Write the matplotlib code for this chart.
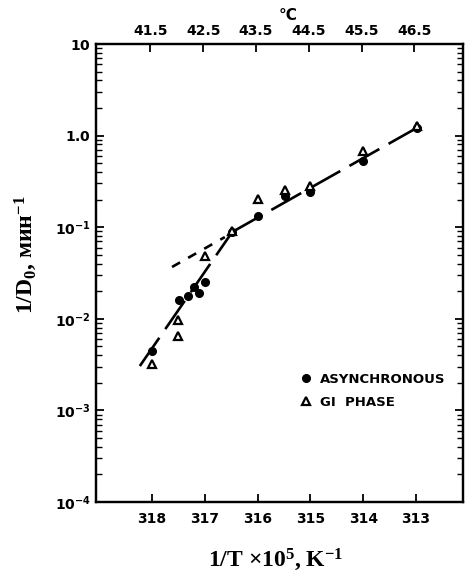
import matplotlib
matplotlib.use("Agg")
import matplotlib.pyplot as plt
import numpy as np

plt.rcParams['mathtext.fontset'] = 'custom'
plt.rcParams['mathtext.rm'] = 'Liberation Serif:bold'
plt.rcParams['mathtext.it'] = 'Liberation Serif:bold'
plt.rcParams['mathtext.bf'] = 'DejaVu Sans:bold'

# ---- data ----
async_x = [318.0, 317.49, 317.32, 317.20, 317.11, 317.0, 316.48, 315.99, 315.48, 315.0, 314.0, 312.98]
async_y = [0.0045, 0.016, 0.0178, 0.0222, 0.0191, 0.0252, 0.0887, 0.132, 0.22, 0.242, 0.53, 1.22]

g1_x = [318.0, 317.51, 317.51, 317.0, 316.48, 315.99, 315.48, 315.0, 314.0, 312.98]
g1_y = [0.0032, 0.0098, 0.0065, 0.0486, 0.09, 0.203, 0.255, 0.28, 0.68, 1.28]

steep_x = [318.23, 316.48]
steep_y = [0.00305, 0.0887]
shallow_x = [316.48, 313.0]
shallow_y = [0.0887, 1.2]
g1fit_x = [317.62, 316.62]
g1fit_y = [0.0368, 0.078]

bottom_ticks = [318, 317, 316, 315, 314, 313]
bottom_labels = ['318', '317', '316', '315', '314', '313']
top_ticks = [318.03, 317.03, 316.03, 315.03, 314.03, 313.03]
top_labels = ['41.5', '42.5', '43.5', '44.5', '45.5', '46.5']
y_ticks = [1e1, 1e0, 1e-1, 1e-2, 1e-3, 1e-4]
y_labels = [r'$\mathbf{10}$', r'$\mathbf{1.0}$', r'$\mathbf{10^{-1}}$',
            r'$\mathbf{10^{-2}}$', r'$\mathbf{10^{-3}}$', r'$\mathbf{10^{-4}}$']

W, H = 469, 575
fig = plt.figure(figsize=(W/100, H/100), dpi=100)
L, R, T, B = 96, 463, 44, 502
ax = fig.add_axes([L/W, 1 - B/H, (R-L)/W, (B-T)/H])

ax.set_yscale('log')
ax.set_xlim(319.06, 312.11)
ax.set_ylim(1e-4, 10)

lw = 1.9
ax.plot(steep_x, steep_y, color='black', lw=lw, dashes=(13, 4))
ax.plot(shallow_x, shallow_y, color='black', lw=lw, dashes=(13, 4))
ax.plot(g1fit_x, g1fit_y, color='black', lw=lw, dashes=(3.5, 3.5))

ax.plot(async_x, async_y, 'o', color='black', ms=5.5, ls='none', label='ASYNCHRONOUS')
ax.plot(g1_x, g1_y, '^', mfc='white', mec='black', mew=1.6, ms=6.0, ls='none', label='GI  PHASE')

for s in ax.spines.values():
    s.set_linewidth(1.6)

ax.set_xticks(bottom_ticks)
ax.set_xticklabels(bottom_labels, fontsize=10, fontweight='bold')
ax.set_yticks(y_ticks)
ax.set_yticklabels(y_labels, fontsize=10)
ax.yaxis.set_minor_locator(matplotlib.ticker.LogLocator(base=10, subs=np.arange(2, 10)))
ax.yaxis.set_minor_formatter(matplotlib.ticker.NullFormatter())
ax.tick_params(axis='x', which='both', direction='in', length=6, width=1.3, pad=7, top=False)
ax.tick_params(axis='y', which='major', direction='in', length=6, width=1.3, pad=4, right=True)
ax.tick_params(axis='y', which='minor', direction='in', length=4, width=1.0, right=True)

ax2 = ax.twiny()
ax2.set_xlim(ax.get_xlim())
ax2.set_xticks(top_ticks)
ax2.set_xticklabels(top_labels, fontsize=10, fontweight='bold')
ax2.tick_params(axis='x', direction='in', length=6, width=1.3, pad=4)
for s in ax2.spines.values():
    s.set_linewidth(1.6)

fig.text(288/W, 1 - 15/H, '°C', ha='center', va='center', fontsize=11, fontweight='bold')

fig.text(276/W, 1 - 560/H, r'1/T $\times$10$^5$, K$^{-1}$', ha='center', va='center',
         fontsize=17, family='Liberation Serif', fontweight='bold')
fig.text(26/W, 1 - 255/H, r'1/D$_0$, мин$^{-1}$', ha='center', va='center', rotation=90,
         fontsize=17, family='Liberation Serif', fontweight='bold')

leg = ax.legend(loc='upper left', bbox_to_anchor=((299 - L)/(R - L), 1 - (373 - T)/(B - T)),
                frameon=False, handlelength=1.0, handletextpad=0.6, labelspacing=0.75,
                borderpad=0, borderaxespad=0, prop={'size': 9.5, 'weight': 'bold'})

fig.savefig('out.png', dpi=100)
